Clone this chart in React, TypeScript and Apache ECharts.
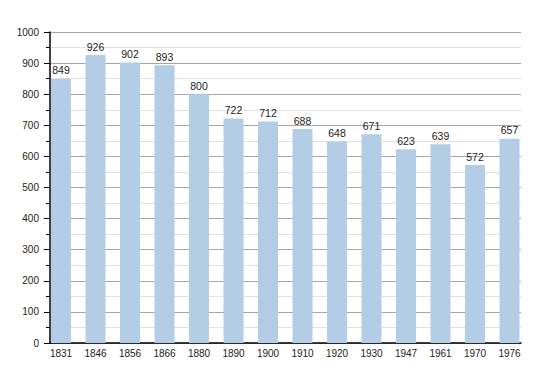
import React, { useEffect, useRef } from "react";
import * as echarts from "echarts";

const years = ["1831", "1846", "1856", "1866", "1880", "1890", "1900", "1910", "1920", "1930", "1947", "1961", "1970", "1976"];
const population = [849, 926, 902, 893, 800, 722, 712, 688, 648, 671, 623, 639, 572, 657];
const yTicks = [0, 100, 200, 300, 400, 500, 600, 700, 800, 900, 1000];

export default function App() {
  const ref = useRef<HTMLDivElement>(null);
  useEffect(() => {
    if (!ref.current) return;
    const chart = echarts.init(ref.current, null, { renderer: "svg" });
    const idx = years.map((_, i) => i);
    chart.setOption({
      animation: false,
      backgroundColor: "#ffffff",
      textStyle: { fontFamily: "Liberation Sans, Arial, sans-serif" },
      grid: { left: 42, right: 29, top: 24, bottom: 30, containLabel: false },
      xAxis: {
        type: "value",
        min: -0.319,
        max: 13.333,
        splitLine: { show: false },
        axisLine: { show: true, onZero: false, lineStyle: { color: "#000", width: 1.5 } },
        axisTick: { show: false },
        axisLabel: {
          customValues: idx,
          formatter: (v: number) => years[Math.round(v)] ?? "",
          color: "#222",
          fontSize: 10,
          margin: 5,
        },
      },
      yAxis: {
        type: "value",
        min: yTicks[0],
        max: yTicks[yTicks.length - 1],
        interval: 100,
        axisLine: { show: true, onZero: false, lineStyle: { color: "#000", width: 1.5 } },
        axisTick: { show: true, length: 6, lineStyle: { color: "#000" } },
        minorTick: { show: true, splitNumber: 2, length: 4, lineStyle: { color: "#000" } },
        splitLine: { show: true, lineStyle: { color: "#a6a6a6", width: 1 } },
        minorSplitLine: { show: true, lineStyle: { color: "#e0e0e0", width: 1 } },
        axisLabel: { color: "#222", fontSize: 10, margin: 11, formatter: (v: number) => String(v) },
      },
      series: [
        {
          type: "bar",
          barWidth: 20,
          data: population.map((v, i) => [i, v]),
          itemStyle: { color: "#b3cde6" },
          label: {
            show: true,
            position: "top",
            distance: 3,
            color: "#222",
            fontSize: 10.5,
            formatter: (p: any) => String(p.value[1]),
          },
        },
      ],
    });
    return () => chart.dispose();
  }, []);
  return <div ref={ref} style={{ width: 542, height: 365, margin: 0 }} />;
}
